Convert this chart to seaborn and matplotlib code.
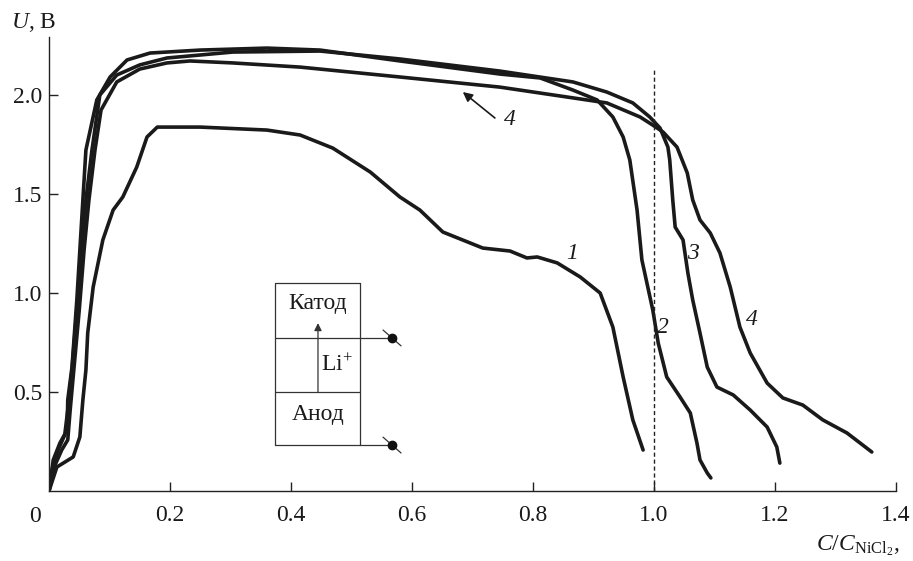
import numpy as np
import pandas as pd
import matplotlib
matplotlib.use("Agg")
import matplotlib.pyplot as plt
import seaborn as sns

# ---- data ----
c1_x = [0.000, 0.013, 0.040, 0.051, 0.056, 0.061, 0.064, 0.073, 0.089, 0.106, 0.122, 0.145, 0.162, 0.179,
        0.250, 0.360, 0.415, 0.469, 0.531, 0.580, 0.613, 0.651, 0.717, 0.762, 0.790, 0.807, 0.840, 0.878,
        0.911, 0.932, 0.949, 0.965, 0.982]
c1_y = [0.000, 0.121, 0.172, 0.273, 0.460, 0.611, 0.798, 1.030, 1.268, 1.419, 1.485, 1.636, 1.788, 1.838,
        1.838, 1.823, 1.798, 1.732, 1.611, 1.485, 1.419, 1.308, 1.227, 1.212, 1.177, 1.182, 1.152, 1.081,
        1.000, 0.828, 0.576, 0.359, 0.207]

c2_x = [0.000, 0.007, 0.018, 0.030, 0.031, 0.038, 0.046, 0.051, 0.056, 0.061, 0.079, 0.101, 0.129, 0.167,
        0.250, 0.360, 0.448, 0.580, 0.745, 0.812, 0.866, 0.906, 0.932, 0.949, 0.960, 0.972, 0.980, 0.998,
        1.007, 1.021, 1.043, 1.060, 1.071, 1.076, 1.088, 1.094]
c2_y = [0.000, 0.157, 0.242, 0.308, 0.460, 0.626, 0.965, 1.217, 1.470, 1.722, 1.975, 2.091, 2.177, 2.212,
        2.227, 2.237, 2.227, 2.172, 2.106, 2.086, 2.025, 1.975, 1.889, 1.788, 1.672, 1.419, 1.167, 0.914,
        0.747, 0.576, 0.475, 0.394, 0.242, 0.157, 0.091, 0.066]

c3_x = [0.000, 0.005, 0.015, 0.026, 0.031, 0.038, 0.046, 0.053, 0.061, 0.071, 0.084, 0.112, 0.150, 0.195,
        0.304, 0.448, 0.580, 0.745, 0.866, 0.922, 0.965, 0.993, 1.010, 1.023, 1.026, 1.031, 1.035, 1.048,
        1.056, 1.064, 1.076, 1.088, 1.104, 1.131, 1.159, 1.187, 1.203, 1.208]
c3_y = [0.000, 0.106, 0.207, 0.283, 0.409, 0.611, 0.914, 1.192, 1.470, 1.722, 2.000, 2.101, 2.152, 2.187,
        2.217, 2.222, 2.182, 2.121, 2.066, 2.015, 1.960, 1.889, 1.833, 1.737, 1.672, 1.470, 1.333, 1.268,
        1.101, 0.965, 0.798, 0.626, 0.525, 0.485, 0.409, 0.323, 0.222, 0.141]

c4_x = [0.000, 0.010, 0.021, 0.031, 0.035, 0.041, 0.050, 0.058, 0.066, 0.076, 0.086, 0.112, 0.150, 0.195,
        0.233, 0.304, 0.415, 0.580, 0.745, 0.856, 0.922, 0.977, 0.998, 1.015, 1.038, 1.055, 1.064, 1.076,
        1.093, 1.109, 1.126, 1.142, 1.159, 1.187, 1.213, 1.246, 1.279, 1.319, 1.360]
c4_y = [0.000, 0.131, 0.207, 0.258, 0.409, 0.611, 0.914, 1.217, 1.470, 1.722, 1.924, 2.066, 2.131, 2.162,
        2.172, 2.162, 2.141, 2.091, 2.040, 1.990, 1.960, 1.889, 1.848, 1.813, 1.737, 1.606, 1.470, 1.369,
        1.303, 1.202, 1.030, 0.828, 0.697, 0.545, 0.470, 0.434, 0.359, 0.293, 0.197]

curve_names = ["1", "2", "3", "4"]
x_ticks = [0.2, 0.4, 0.6, 0.8, 1.0, 1.2, 1.4]
x_tick_labels = ["0.2", "0.4", "0.6", "0.8", "1.0", "1.2", "1.4"]
y_ticks = [0.5, 1.0, 1.5, 2.0]
y_tick_labels = ["0.5", "1.0", "1.5", "2.0"]

df = pd.concat([
    pd.DataFrame({"x": c1_x, "y": c1_y, "curve": "1"}),
    pd.DataFrame({"x": c2_x, "y": c2_y, "curve": "2"}),
    pd.DataFrame({"x": c3_x, "y": c3_y, "curve": "3"}),
    pd.DataFrame({"x": c4_x, "y": c4_y, "curve": "4"}),
], ignore_index=True)

# ---- style ----
sns.set_theme(style="ticks")
plt.rcParams["font.family"] = ["Liberation Serif", "DejaVu Serif"]
plt.rcParams["mathtext.fontset"] = "custom"
plt.rcParams["mathtext.rm"] = "Liberation Serif"
plt.rcParams["mathtext.it"] = "Liberation Serif:italic"

FS = 17
fig = plt.figure(figsize=(9.13, 5.61), dpi=100)
ax = fig.add_axes([49 / 913, 1 - 491 / 561, 847 / 913, (491 - 37) / 561])

sns.lineplot(data=df, x="x", y="y", hue="curve", units="curve", estimator=None, sort=False,
             palette={n: "#1a1a1a" for n in curve_names}, linewidth=2.6, legend=False, ax=ax)

ax.set_xlim(0, 1.4)
ax.set_ylim(0, 2.293)
ax.set_xticks(x_ticks)
ax.set_xticklabels(x_tick_labels)
ax.set_yticks(y_ticks)
ax.set_yticklabels(y_tick_labels)
ax.set_xlabel("")
ax.set_ylabel("")
for s in ["top", "right"]:
    ax.spines[s].set_visible(False)
for s in ["left", "bottom"]:
    ax.spines[s].set_linewidth(1.0)
    ax.spines[s].set_color("#222222")
ax.tick_params(axis="both", direction="in", length=6.5, width=1.0, color="#222222",
               labelsize=FS, labelcolor="#1a1a1a")
ax.tick_params(axis="x", pad=10)
ax.tick_params(axis="y", pad=5)

# "0" at the origin
fig.text(35 / 913, 1 - 516 / 561, "0", fontsize=FS, ha="center", va="center", color="#1a1a1a")
# axis titles
fig.text(11 / 913, 1 - 22 / 561, "$U$, В", fontsize=FS, ha="left", va="center", color="#1a1a1a")
fig.text(816 / 913, 1 - 546 / 561, r"$C/C_{\mathrm{NiCl}_2}$,", fontsize=FS, ha="left", va="center",
         color="#1a1a1a")

# dashed vertical line at C/C = 1
ax.plot([1.0, 1.0], [0, 2.136], color="#222222", lw=1.0, linestyle=(0, (3, 2)))

# curve labels
lab_kw = dict(fontsize=FS, style="italic", color="#1a1a1a", ha="center", va="center")
ax.text(0.864, 1.202, "1", **lab_kw)
ax.text(1.015, 0.828, "2", **lab_kw)
ax.text(1.064, 1.202, "3", **lab_kw)
ax.text(1.162, 0.864, "4", **lab_kw)
ax.annotate("", xy=(0.684, 2.015), xytext=(0.737, 1.884),
            arrowprops=dict(arrowstyle="-|>", color="#1a1a1a", lw=1.2, mutation_scale=14, shrinkA=0, shrinkB=0))
ax.text(0.752, 1.874, "4", fontsize=FS, style="italic", color="#1a1a1a", ha="left", va="center")

# inset cell diagram
lc = "#333333"
bx0, bx1 = 0.3736, 0.514
by0, by1 = 0.232, 1.051
ax.plot([bx0, bx1, bx1, bx0, bx0], [by0, by0, by1, by1, by0], color=lc, lw=0.9)
ax.plot([bx0, bx1], [0.773, 0.773], color=lc, lw=0.9)
ax.plot([bx0, bx1], [0.5, 0.5], color=lc, lw=0.9)
ax.annotate("", xy=(0.4446, 0.848), xytext=(0.4446, 0.5),
            arrowprops=dict(arrowstyle="-|>", color=lc, lw=0.9, mutation_scale=11, shrinkA=0, shrinkB=0))
for yy in [0.773, 0.232]:
    ax.plot([bx1, 0.567], [yy, yy], color=lc, lw=0.9)
    ax.plot([0.567 - 0.0149, 0.567 + 0.0149], [yy + 0.040, yy - 0.040], color=lc, lw=0.9)
    ax.plot([0.567], [yy], marker="o", markersize=6, color="#111111")
ax.text(0.4446, 0.949, "Катод", fontsize=FS, ha="center", va="center", color="#1a1a1a")
ax.text(0.476, 0.636, "Li$^{+}$", fontsize=FS, ha="center", va="center", color="#1a1a1a")
ax.text(0.4446, 0.384, "Анод", fontsize=FS, ha="center", va="center", color="#1a1a1a")

fig.savefig("out.png", dpi=100)
